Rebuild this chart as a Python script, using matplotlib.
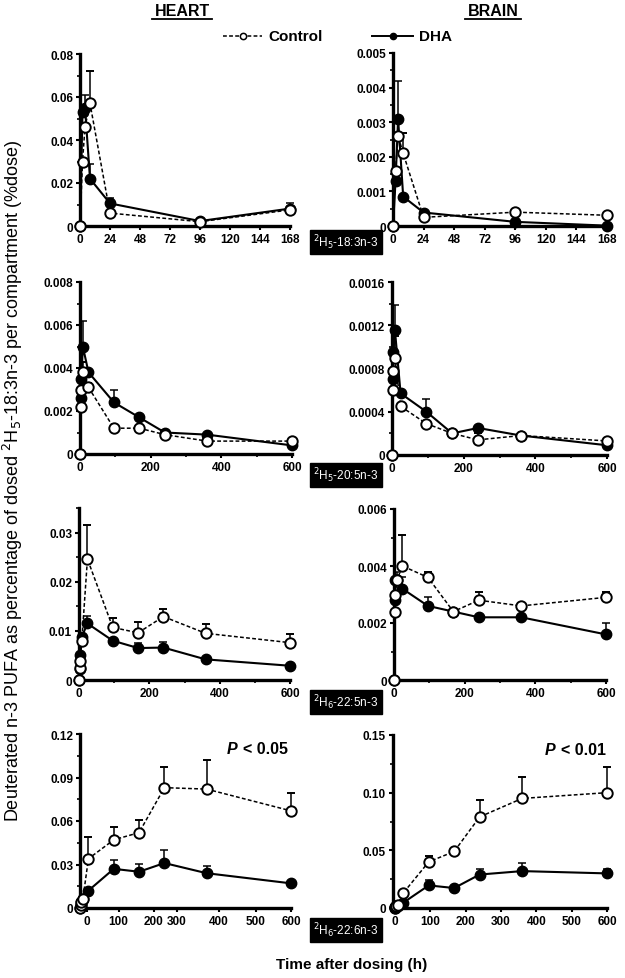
import matplotlib
matplotlib.use("Agg")
import matplotlib.pyplot as plt
from matplotlib.lines import Line2D
from matplotlib.ticker import FixedLocator, MultipleLocator
import numpy as np

plt.rcParams['font.family'] = ['Liberation Sans', 'DejaVu Sans']

W, H = 625, 979

# ---- data ----
t_short = [0, 2, 4, 8, 24, 96, 168]
t_long = [0, 2, 4, 8, 24, 96, 168, 240, 360, 600]

# row 1: 2H5-18:3n-3
heart_183_ctrl = [0, 0.030, 0.046, 0.057, 0.006, 0.002, 0.0075]
heart_183_ctrl_se = [0, 0, 0, 0.015, 0.001, 0.0005, 0.001]
heart_183_dha = [0, 0.053, 0.055, 0.022, 0.0105, 0.0023, 0.0081]
heart_183_dha_se = [0, 0, 0.006, 0.007, 0.0025, 0.0005, 0.0025]
brain_183_ctrl = [0, 0.0016, 0.0026, 0.0021, 0.00025, 0.0004, 0.00031]
brain_183_ctrl_se = [0, 0, 0.0001, 0.0006, 0.0001, 0.00003, 0.00003]
brain_183_dha = [0, 0.0013, 0.0031, 0.00085, 0.00039, 0.00012, 0.00001]
brain_183_dha_se = [0, 0, 0.0011, 0, 0.00005, 0, 0]

# row 2: 2H5-20:5n-3
heart_205_ctrl = [0, 0.0022, 0.0030, 0.0038, 0.0031, 0.0012, 0.0012, 0.0009, 0.0006, 0.0006]
heart_205_ctrl_se = [0, 0, 0, 0.0005, 0.0002, 0, 0, 0, 0, 0]
heart_205_dha = [0, 0.0026, 0.0035, 0.0050, 0.0038, 0.0024, 0.0017, 0.0010, 0.0009, 0.0004]
heart_205_dha_se = [0, 0, 0, 0.0012, 0, 0.0006, 0.0001, 0.0001, 0, 0]
brain_205_ctrl = [0, 0.0006, 0.00078, 0.0009, 0.00045, 0.00029, 0.0002, 0.00014, 0.00018, 0.00013]
brain_205_ctrl_se = [0, 0, 0, 0.0002, 0, 0, 0, 0.00006, 0, 0.00003]
brain_205_dha = [0, 0.0007, 0.00095, 0.00116, 0.00057, 0.0004, 0.0002, 0.00025, 0.00018, 0.00009]
brain_205_dha_se = [0, 0, 0, 0.00023, 0, 0.00012, 0, 0, 0, 0]

# row 3: 2H6-22:5n-3
heart_225_ctrl = [0, 0.0025, 0.0039, 0.0080, 0.0246, 0.0107, 0.0096, 0.0129, 0.0095, 0.0076]
heart_225_ctrl_se = [0, 0, 0, 0, 0.0069, 0.0019, 0.0022, 0.0016, 0.0019, 0.0017]
heart_225_dha = [0, 0.0022, 0.0050, 0.0088, 0.0115, 0.0080, 0.0065, 0.0066, 0.0042, 0.0029]
heart_225_dha_se = [0, 0, 0, 0, 0.0015, 0, 0.0010, 0.0011, 0, 0]
brain_225_ctrl = [0, 0.0024, 0.0030, 0.0035, 0.0040, 0.0036, 0.0024, 0.0028, 0.0026, 0.0029]
brain_225_ctrl_se = [0, 0, 0, 0, 0.0011, 0.0002, 0, 0.0003, 0.0001, 0.0002]
brain_225_dha = [0, 0.0028, 0.0035, 0.0035, 0.0032, 0.0026, 0.0024, 0.0022, 0.0022, 0.0016]
brain_225_dha_se = [0, 0, 0, 0.0003, 0.0004, 0.0003, 0, 0, 0, 0.0004]

# row 4: 2H6-22:6n-3
heart_226_ctrl = [0, 0.002, 0.004, 0.006, 0.034, 0.047, 0.052, 0.083, 0.082, 0.067]
heart_226_ctrl_se = [0, 0, 0, 0, 0.015, 0.009, 0.009, 0.014, 0.020, 0.012]
heart_226_dha = [0, 0.002, 0.004, 0.006, 0.012, 0.027, 0.025, 0.031, 0.024, 0.017]
heart_226_dha_se = [0, 0, 0, 0, 0, 0.006, 0.0055, 0.009, 0.005, 0]
brain_226_ctrl = [0, 0.001, 0.002, 0.003, 0.013, 0.040, 0.049, 0.079, 0.095, 0.100]
brain_226_ctrl_se = [0, 0, 0, 0, 0, 0.005, 0, 0.015, 0.019, 0.022]
brain_226_dha = [0, 0.001, 0.002, 0.002, 0.0046, 0.0196, 0.0173, 0.029, 0.032, 0.030]
brain_226_dha_se = [0, 0, 0, 0, 0, 0.005, 0, 0.005, 0.007, 0.004]

compound_labels = [r'$^{2}$H$_{5}$-18:3n-3', r'$^{2}$H$_{5}$-20:5n-3',
                   r'$^{2}$H$_{6}$-22:5n-3', r'$^{2}$H$_{6}$-22:6n-3']

# tick labels
x_ticks_short = [0, 24, 48, 72, 96, 120, 144, 168]
x_ticks_long = [0, 200, 400, 600]
x_ticks_100 = [0, 100, 200, 300, 400, 500, 600]
x_ticks_heart4_pos = [20, 110, 210, 275, 395, 500, 600]  # labels sit unevenly in the original

fig = plt.figure(figsize=(W / 100, H / 100), dpi=100)


def add_ax(x0, y0, x1, y1):
    return fig.add_axes([x0 / W, 1 - y1 / H, (x1 - x0) / W, (y1 - y0) / H])


def style(ax, ylim, yticks, ylabels, yminor):
    for s in ['top', 'right']:
        ax.spines[s].set_visible(False)
    for s in ['left', 'bottom']:
        ax.spines[s].set_linewidth(2.4)
    ax.set_ylim(*ylim)
    ax.set_yticks(yticks)
    ax.set_yticklabels(ylabels)
    ax.yaxis.set_minor_locator(MultipleLocator(yminor))
    ax.tick_params(which='major', direction='out', length=3, width=1.5, labelsize=8.5, pad=2)
    ax.tick_params(which='minor', direction='out', length=2, width=1.2)
    for lab in ax.get_xticklabels() + ax.get_yticklabels():
        lab.set_fontweight('bold')


def draw(ax, t, ctrl, ctrl_se, dha, dha_se):
    z = np.zeros(len(t))
    ax.errorbar(t, dha, yerr=[z, dha_se], fmt='-o', color='black', lw=1.5,
                ms=7.5, mfc='black', mec='black', capsize=3, elinewidth=1.1,
                capthick=1.1, clip_on=False, zorder=3)
    ax.errorbar(t, ctrl, yerr=[z, ctrl_se], fmt='--o', color='black', lw=1.1,
                dashes=(2.5, 1.5), ms=7.5, mfc='white', mec='black', mew=1.4,
                capsize=3, elinewidth=1.1, capthick=1.1, clip_on=False, zorder=4)


def set_x(ax, xlim, ticks, labels, minor=None):
    ax.set_xlim(*xlim)
    ax.set_xticks(ticks)
    ax.set_xticklabels(labels, fontweight='bold')
    if minor is not None:
        ax.xaxis.set_minor_locator(FixedLocator(minor))


def p_text(x, y, rest):
    # italic bold P followed by the rest
    fig.text(x / W, 1 - y / H, 'P', ha='left', va='center', fontsize=11.5,
             fontweight='bold', fontstyle='italic')
    fig.text((x + 16) / W, 1 - y / H, rest, ha='left', va='center', fontsize=11.5,
             fontweight='bold')


# ---- row 1 ----
ax = add_ax(80, 55, 290, 227)
draw(ax, t_short, heart_183_ctrl, heart_183_ctrl_se, heart_183_dha, heart_183_dha_se)
set_x(ax, (0, 168), x_ticks_short, [str(v) for v in x_ticks_short])
style(ax, (0, 0.08), [0, 0.02, 0.04, 0.06, 0.08], ['0', '0.02', '0.04', '0.06', '0.08'], 0.01)

ax = add_ax(393, 54, 607, 227)
draw(ax, t_short, brain_183_ctrl, brain_183_ctrl_se, brain_183_dha, brain_183_dha_se)
set_x(ax, (0, 168), x_ticks_short, [str(v) for v in x_ticks_short])
style(ax, (0, 0.005), [0, 0.001, 0.002, 0.003, 0.004, 0.005],
      ['0', '0.001', '0.002', '0.003', '0.004', '0.005'], 0.0005)

# ---- row 2 ----
ax = add_ax(80, 283, 292, 455)
draw(ax, t_long, heart_205_ctrl, heart_205_ctrl_se, heart_205_dha, heart_205_dha_se)
set_x(ax, (0, 600), x_ticks_long, [str(v) for v in x_ticks_long], [100, 300, 500])
style(ax, (0, 0.008), [0, 0.002, 0.004, 0.006, 0.008], ['0', '0.002', '0.004', '0.006', '0.008'], 0.001)

ax = add_ax(392, 283, 607, 456)
draw(ax, t_long, brain_205_ctrl, brain_205_ctrl_se, brain_205_dha, brain_205_dha_se)
set_x(ax, (0, 600), x_ticks_long, [str(v) for v in x_ticks_long], [100, 300, 500])
style(ax, (0, 0.0016), [0, 0.0004, 0.0008, 0.0012, 0.0016],
      ['0', '0.0004', '0.0008', '0.0012', '0.0016'], 0.0002)

# ---- row 3 ----
ax = add_ax(79, 509, 290, 681)
draw(ax, t_long, heart_225_ctrl, heart_225_ctrl_se, heart_225_dha, heart_225_dha_se)
set_x(ax, (0, 600), x_ticks_long, [str(v) for v in x_ticks_long], [100, 300, 500])
style(ax, (0, 0.035), [0, 0.01, 0.02, 0.03], ['0', '0.01', '0.02', '0.03'], 0.005)

ax = add_ax(394, 510, 606, 681)
draw(ax, t_long, brain_225_ctrl, brain_225_ctrl_se, brain_225_dha, brain_225_dha_se)
set_x(ax, (0, 600), x_ticks_long, [str(v) for v in x_ticks_long], [100, 300, 500])
style(ax, (0, 0.006), [0, 0.002, 0.004, 0.006], ['0', '0.002', '0.004', '0.006'], 0.001)

# ---- row 4 ----
ax = add_ax(80, 735, 291, 909)
draw(ax, t_long, heart_226_ctrl, heart_226_ctrl_se, heart_226_dha, heart_226_dha_se)
set_x(ax, (0, 600), x_ticks_heart4_pos, [str(v) for v in x_ticks_100])
style(ax, (0, 0.12), [0, 0.03, 0.06, 0.09, 0.12], ['0', '0.03', '0.06', '0.09', '0.12'], 0.015)
p_text(227, 750, '< 0.05')

ax = add_ax(393, 736, 607, 909)
draw(ax, t_long, brain_226_ctrl, brain_226_ctrl_se, brain_226_dha, brain_226_dha_se)
set_x(ax, (-5, 600), x_ticks_100, [str(v) for v in x_ticks_100])
style(ax, (0, 0.15), [0, 0.05, 0.10, 0.15], ['0', '0.05', '0.10', '0.15'], 0.025)
p_text(545, 751, '< 0.01')

# ---- compound label boxes ----
for lab, yc in zip(compound_labels, [243, 476, 703, 931]):
    fig.text(346 / W, 1 - yc / H, lab, ha='center', va='center', color='white',
             fontsize=8.5, bbox=dict(boxstyle='square,pad=0.25', fc='black', ec='black'))

# ---- titles ----
for name, xc in [('HEART', 182), ('BRAIN', 493)]:
    fig.text(xc / W, 1 - 12 / H, name, ha='center', va='center', fontsize=11.5, fontweight='bold')
fig.add_artist(Line2D([152 / W, 212 / W], [1 - 20 / H, 1 - 20 / H], color='black', lw=1.3))
fig.add_artist(Line2D([465 / W, 521 / W], [1 - 20 / H, 1 - 20 / H], color='black', lw=1.3))

# ---- legend ----
fig.add_artist(Line2D([223 / W, 262 / W], [1 - 37 / H, 1 - 37 / H], color='black', lw=1.1,
                      ls=(0, (2.5, 1.5))))
fig.add_artist(Line2D([242.5 / W], [1 - 37 / H], marker='o', ms=4.5, mfc='white', mec='black', mew=1.1))
fig.text(268 / W, 1 - 37 / H, 'Control', ha='left', va='center', fontsize=11, fontweight='bold')
fig.add_artist(Line2D([372 / W, 413 / W], [1 - 37 / H, 1 - 37 / H], color='black', lw=1.4))
fig.add_artist(Line2D([392.5 / W], [1 - 37 / H], marker='o', ms=4.5, mfc='black', mec='black'))
fig.text(419 / W, 1 - 37 / H, 'DHA', ha='left', va='center', fontsize=11, fontweight='bold')

# ---- axis labels ----
fig.text(13 / W, 1 - 481 / H,
         r'Deuterated n-3 PUFA as percentage of dosed $^{2}$H$_{5}$-18:3n-3 per compartment (%dose)',
         rotation=90, ha='center', va='center', fontsize=13)
fig.text(352 / W, 1 - 965 / H, 'Time after dosing (h)', ha='center', va='center',
         fontsize=11, fontweight='bold')

fig.savefig('out.png', dpi=100)
